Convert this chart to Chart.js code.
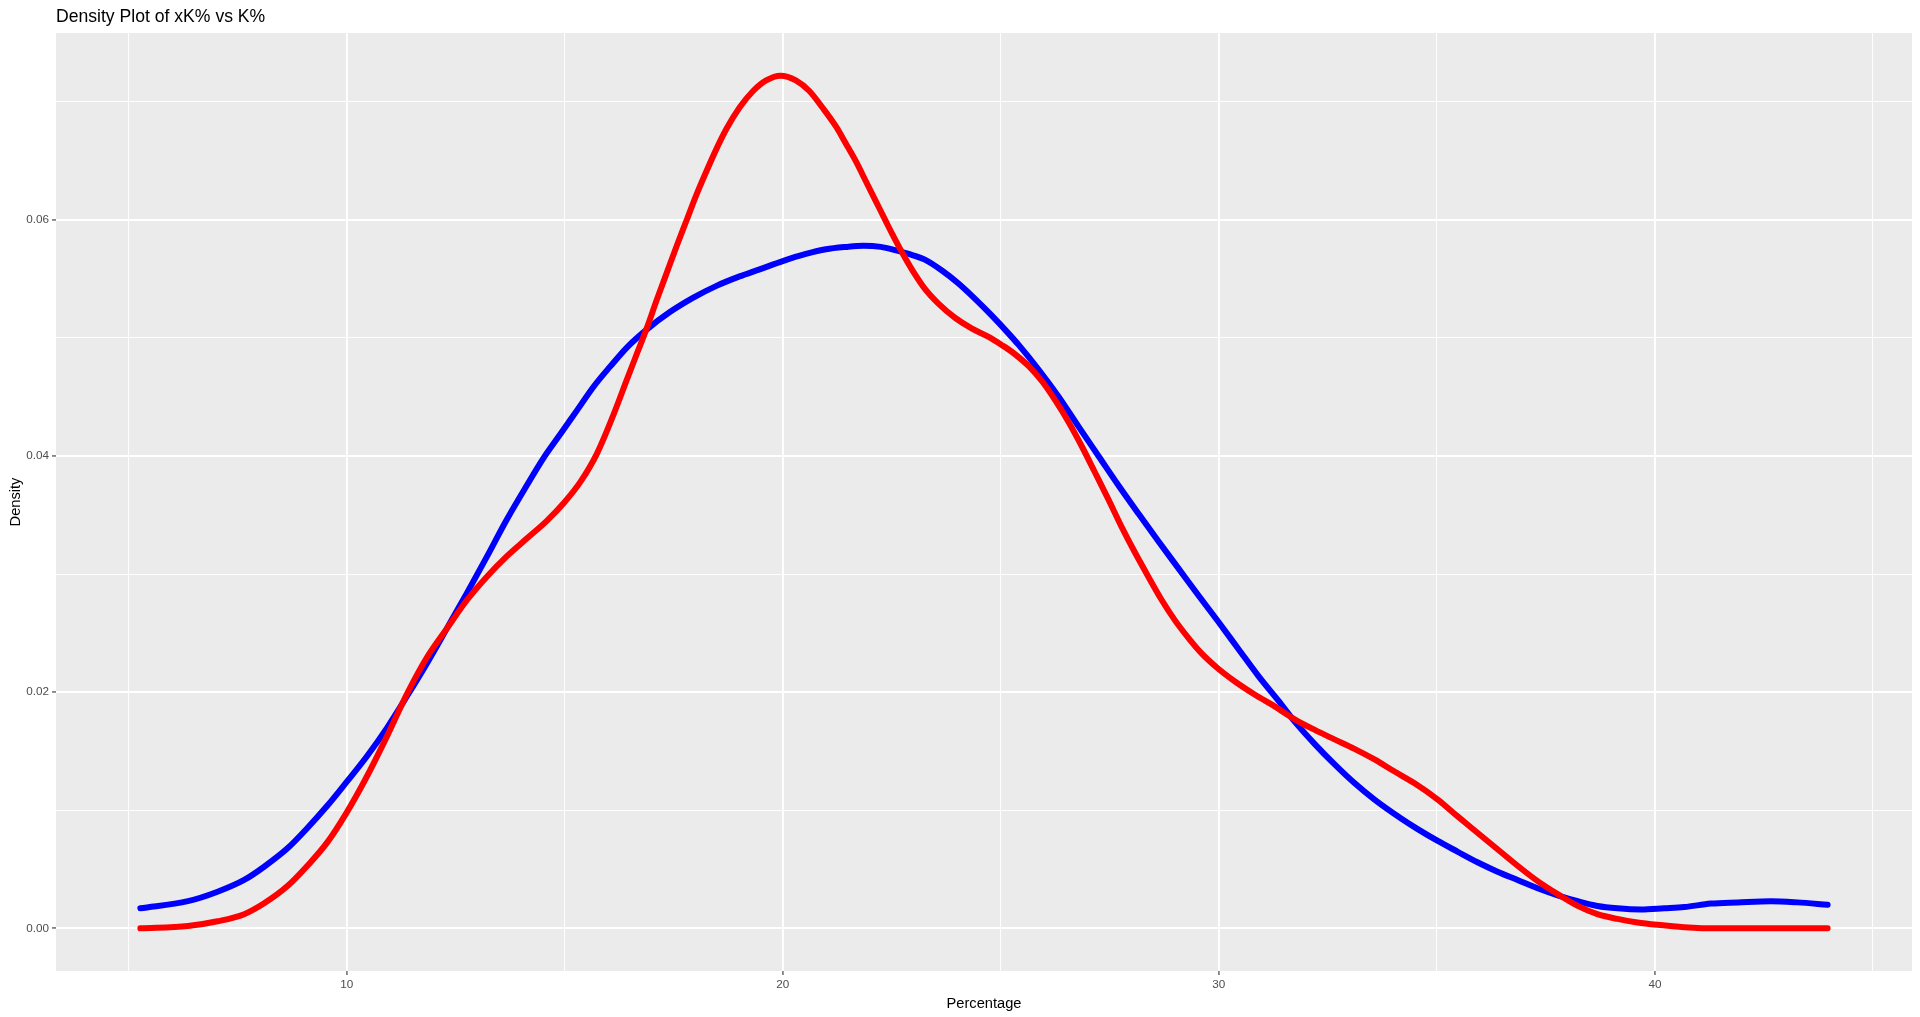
<!DOCTYPE html>
<html lang="en">
<head>
    <meta charset="UTF-8">
    <title>Density Plot of xK% vs K%</title>
    <script src="https://cdn.jsdelivr.net/npm/chart.js"></script>
    <style>
        html, body { margin: 0; padding: 0; background: #fff; }
        canvas { display: block; }
    </style>
</head>
<body>

<canvas id="densityChart" width="1920" height="1017"></canvas>

<script>
    // red curve (K%)
    const redX = [5.27, 6.36, 7.04, 7.65, 8.10, 8.65, 9.10, 9.56, 10.00, 10.47, 10.93, 11.39, 11.85, 12.30, 12.76,
        13.22, 13.67, 14.13, 14.59, 15.00, 15.36, 15.74, 16.12, 16.43, 16.66, 16.88, 17.11, 17.34, 17.57, 17.80,
        18.02, 18.25, 18.48, 18.71, 19.01, 19.32, 19.62, 19.95, 20.30, 20.61, 20.91, 21.22, 21.44, 21.67,
        21.90, 22.13, 22.36, 22.51, 22.74, 22.96, 23.27, 23.57, 23.95, 24.33, 24.71, 25.02, 25.26, 25.64, 25.95,
        26.25, 26.55, 26.86, 27.16, 27.47, 27.77, 28.08, 28.38, 28.69, 28.99, 29.30, 29.60, 29.98, 30.37, 30.82,
        31.28, 31.74, 32.20, 32.65, 33.11, 33.57, 34.02, 34.48, 35.02, 35.47, 35.93, 36.39, 36.85, 37.31, 37.77,
        38.23, 38.68, 39.14, 39.60, 40.06, 40.67, 41.44, 42.20, 43.96];
    const redY = [0.0000, 0.0002, 0.0006, 0.0012, 0.0021, 0.0036, 0.0053, 0.0073, 0.0098, 0.0129, 0.0163, 0.0199, 0.0230, 0.0254, 0.0278,
        0.0298, 0.0315, 0.0330, 0.0345, 0.0361, 0.0378, 0.0402, 0.0435, 0.0465, 0.0487, 0.0508, 0.0532, 0.0555, 0.0578, 0.0600,
        0.0621, 0.0641, 0.0660, 0.0677, 0.0695, 0.0709, 0.0718, 0.0722, 0.0718, 0.0709, 0.0695, 0.0679, 0.0665, 0.0650,
        0.0633, 0.0616, 0.0599, 0.0588, 0.0572, 0.0558, 0.0541, 0.0529, 0.0517, 0.0508, 0.0501, 0.0494, 0.0488, 0.0476, 0.0463,
        0.0447, 0.0429, 0.0408, 0.0386, 0.0363, 0.0340, 0.0318, 0.0298, 0.0278, 0.0261, 0.0246, 0.0233, 0.0220, 0.0209, 0.0198,
        0.0188, 0.0177, 0.0168, 0.0160, 0.0152, 0.0143, 0.0133, 0.0123, 0.0109, 0.0095, 0.0081, 0.0067, 0.0053, 0.0040, 0.0029,
        0.0019, 0.0012, 0.0008, 0.0005, 0.0003, 0.0001, 0.0000, 0.0000, 0.0000];

    // blue curve (xK%)
    const blueX = [5.27, 6.36, 7.04, 7.65, 8.10, 8.65, 9.10, 9.56, 10.00, 10.47, 10.93, 11.39, 11.85, 12.30, 12.76,
        13.22, 13.67, 14.13, 14.51, 14.91, 15.29, 15.67, 16.05, 16.43, 16.88, 17.42, 17.95, 18.48, 19.01, 19.47,
        20.00, 20.53, 20.99, 21.45, 21.85, 22.25, 22.60, 22.89, 23.27, 23.65, 24.03, 24.41, 24.79, 25.17, 25.41, 25.87,
        26.33, 26.78, 27.24, 27.70, 28.16, 28.61, 29.07, 29.53, 29.98, 30.44, 30.90, 31.36, 31.74, 32.20, 32.65,
        33.11, 33.57, 34.18, 34.56, 35.02, 35.47, 35.93, 36.39, 36.85, 37.31, 37.77, 38.23, 38.68, 39.14, 39.68,
        40.21, 40.67, 41.28, 41.90, 42.66, 43.27, 43.96];
    const blueY = [0.0017, 0.0023, 0.0031, 0.0041, 0.0052, 0.0068, 0.0085, 0.0104, 0.0124, 0.0146, 0.0170, 0.0197, 0.0225, 0.0254, 0.0284,
        0.0315, 0.0346, 0.0375, 0.0398, 0.0419, 0.0439, 0.0459, 0.0476, 0.0492, 0.0507, 0.0522, 0.0534, 0.0544, 0.0552, 0.0558,
        0.0565, 0.0571, 0.0575, 0.0577, 0.0578, 0.0577, 0.0574, 0.0571, 0.0566, 0.0557, 0.0546, 0.0533, 0.0519, 0.0504, 0.0494, 0.0473,
        0.0450, 0.0425, 0.0400, 0.0375, 0.0351, 0.0328, 0.0305, 0.0282, 0.0260, 0.0237, 0.0214, 0.0193, 0.0175, 0.0156, 0.0139,
        0.0123, 0.0109, 0.0093, 0.0084, 0.0074, 0.0065, 0.0056, 0.0048, 0.0041, 0.0034, 0.0028, 0.0023, 0.0019, 0.0017, 0.0016,
        0.0017, 0.0018, 0.0021, 0.0022, 0.0023, 0.0022, 0.0020];

    // axis breaks
    const xMajor = [10, 20, 30, 40];
    const xMinor = [5, 15, 25, 35, 45];
    const yMajor = [0, 0.02, 0.04, 0.06];
    const yMinor = [0.01, 0.03, 0.05, 0.07];

    const titleText = 'Density Plot of xK% vs K%';
    const xTitle = 'Percentage';
    const yTitle = 'Density';

    // ggplot style 5% expansion
    const allX = redX.concat(blueX);
    const allY = redY.concat(blueY);
    const xLo = Math.min(...allX), xHi = Math.max(...allX);
    const yLo = Math.min(...allY), yHi = Math.max(...allY);
    const xPad = (xHi - xLo) * 0.05, yPad = (yHi - yLo) * 0.05;

    const isMajor = (list, v) => list.some(m => Math.abs(m - v) < 1e-9);

    Chart.defaults.font.family = '"Liberation Sans", Arial, sans-serif';

    const panelBg = {
        id: 'panelBg',
        beforeDraw(chart) {
            const { ctx, chartArea: a } = chart;
            ctx.save();
            ctx.fillStyle = '#EBEBEB';
            ctx.fillRect(a.left, a.top, a.right - a.left, a.bottom - a.top);
            ctx.restore();
        },
        afterDraw(chart) {
            const ctx = chart.ctx;
            ctx.save();
            ctx.fillStyle = '#000';
            ctx.font = '17.6px "Liberation Sans", Arial, sans-serif';
            ctx.textAlign = 'left';
            ctx.textBaseline = 'alphabetic';
            ctx.fillText(titleText, chart.chartArea.left, 22);
            ctx.restore();
        }
    };

    const gridOpts = (major) => ({
        color: '#FFFFFF',
        lineWidth: c => (c.tick && isMajor(major, c.tick.value)) ? 1.9 : 0.95,
        tickColor: c => (c.tick && isMajor(major, c.tick.value)) ? '#333333' : 'rgba(0,0,0,0)',
        tickLength: 4,
        tickWidth: 1.1
    });

    const ctx = document.getElementById('densityChart').getContext('2d');
    new Chart(ctx, {
        type: 'line',
        data: {
            datasets: [{
                label: 'K%',
                data: redX.map((x, i) => ({ x: x, y: redY[i] })),
                borderColor: '#FF0000',
                borderWidth: 6,
                pointRadius: 0,
                cubicInterpolationMode: 'monotone',
                borderCapStyle: 'round',
                borderJoinStyle: 'round'
            }, {
                label: 'xK%',
                data: blueX.map((x, i) => ({ x: x, y: blueY[i] })),
                borderColor: '#0000FF',
                borderWidth: 6,
                pointRadius: 0,
                cubicInterpolationMode: 'monotone',
                borderCapStyle: 'round',
                borderJoinStyle: 'round'
            }]
        },
        options: {
            responsive: false,
            animation: false,
            events: [],
            layout: { padding: { top: 33, right: 8, bottom: 0, left: 0 } },
            plugins: {
                legend: { display: false },
                title: { display: false },
                tooltip: { enabled: false }
            },
            scales: {
                x: {
                    type: 'linear',
                    min: xLo - xPad,
                    max: xHi + xPad,
                    afterBuildTicks: s => { s.ticks = xMinor.concat(xMajor).sort((a, b) => a - b).map(v => ({ value: v })); },
                    afterFit: s => { s.height = 46; },
                    border: { display: false },
                    grid: gridOpts(xMajor),
                    ticks: {
                        autoSkip: false,
                        maxRotation: 0,
                        padding: 3,
                        color: '#4D4D4D',
                        font: { size: 11.7 },
                        callback: v => isMajor(xMajor, v) ? String(v) : ''
                    },
                    title: {
                        display: true,
                        text: xTitle,
                        color: '#000',
                        font: { size: 14.67 },
                        padding: { top: 0, bottom: 4 }
                    }
                },
                y: {
                    type: 'linear',
                    min: yLo - yPad,
                    max: yHi + yPad,
                    afterBuildTicks: s => { s.ticks = yMinor.concat(yMajor).sort((a, b) => a - b).map(v => ({ value: v })); },
                    afterFit: s => { s.width = 56; },
                    border: { display: false },
                    grid: gridOpts(yMajor),
                    ticks: {
                        autoSkip: false,
                        padding: 3,
                        color: '#4D4D4D',
                        font: { size: 11.7 },
                        callback: v => isMajor(yMajor, v) ? v.toFixed(2) : ''
                    },
                    title: {
                        display: true,
                        text: yTitle,
                        color: '#000',
                        font: { size: 14.67 },
                        padding: { top: 7, bottom: 0 }
                    }
                }
            }
        },
        plugins: [panelBg]
    });
</script>

</body>
</html>
